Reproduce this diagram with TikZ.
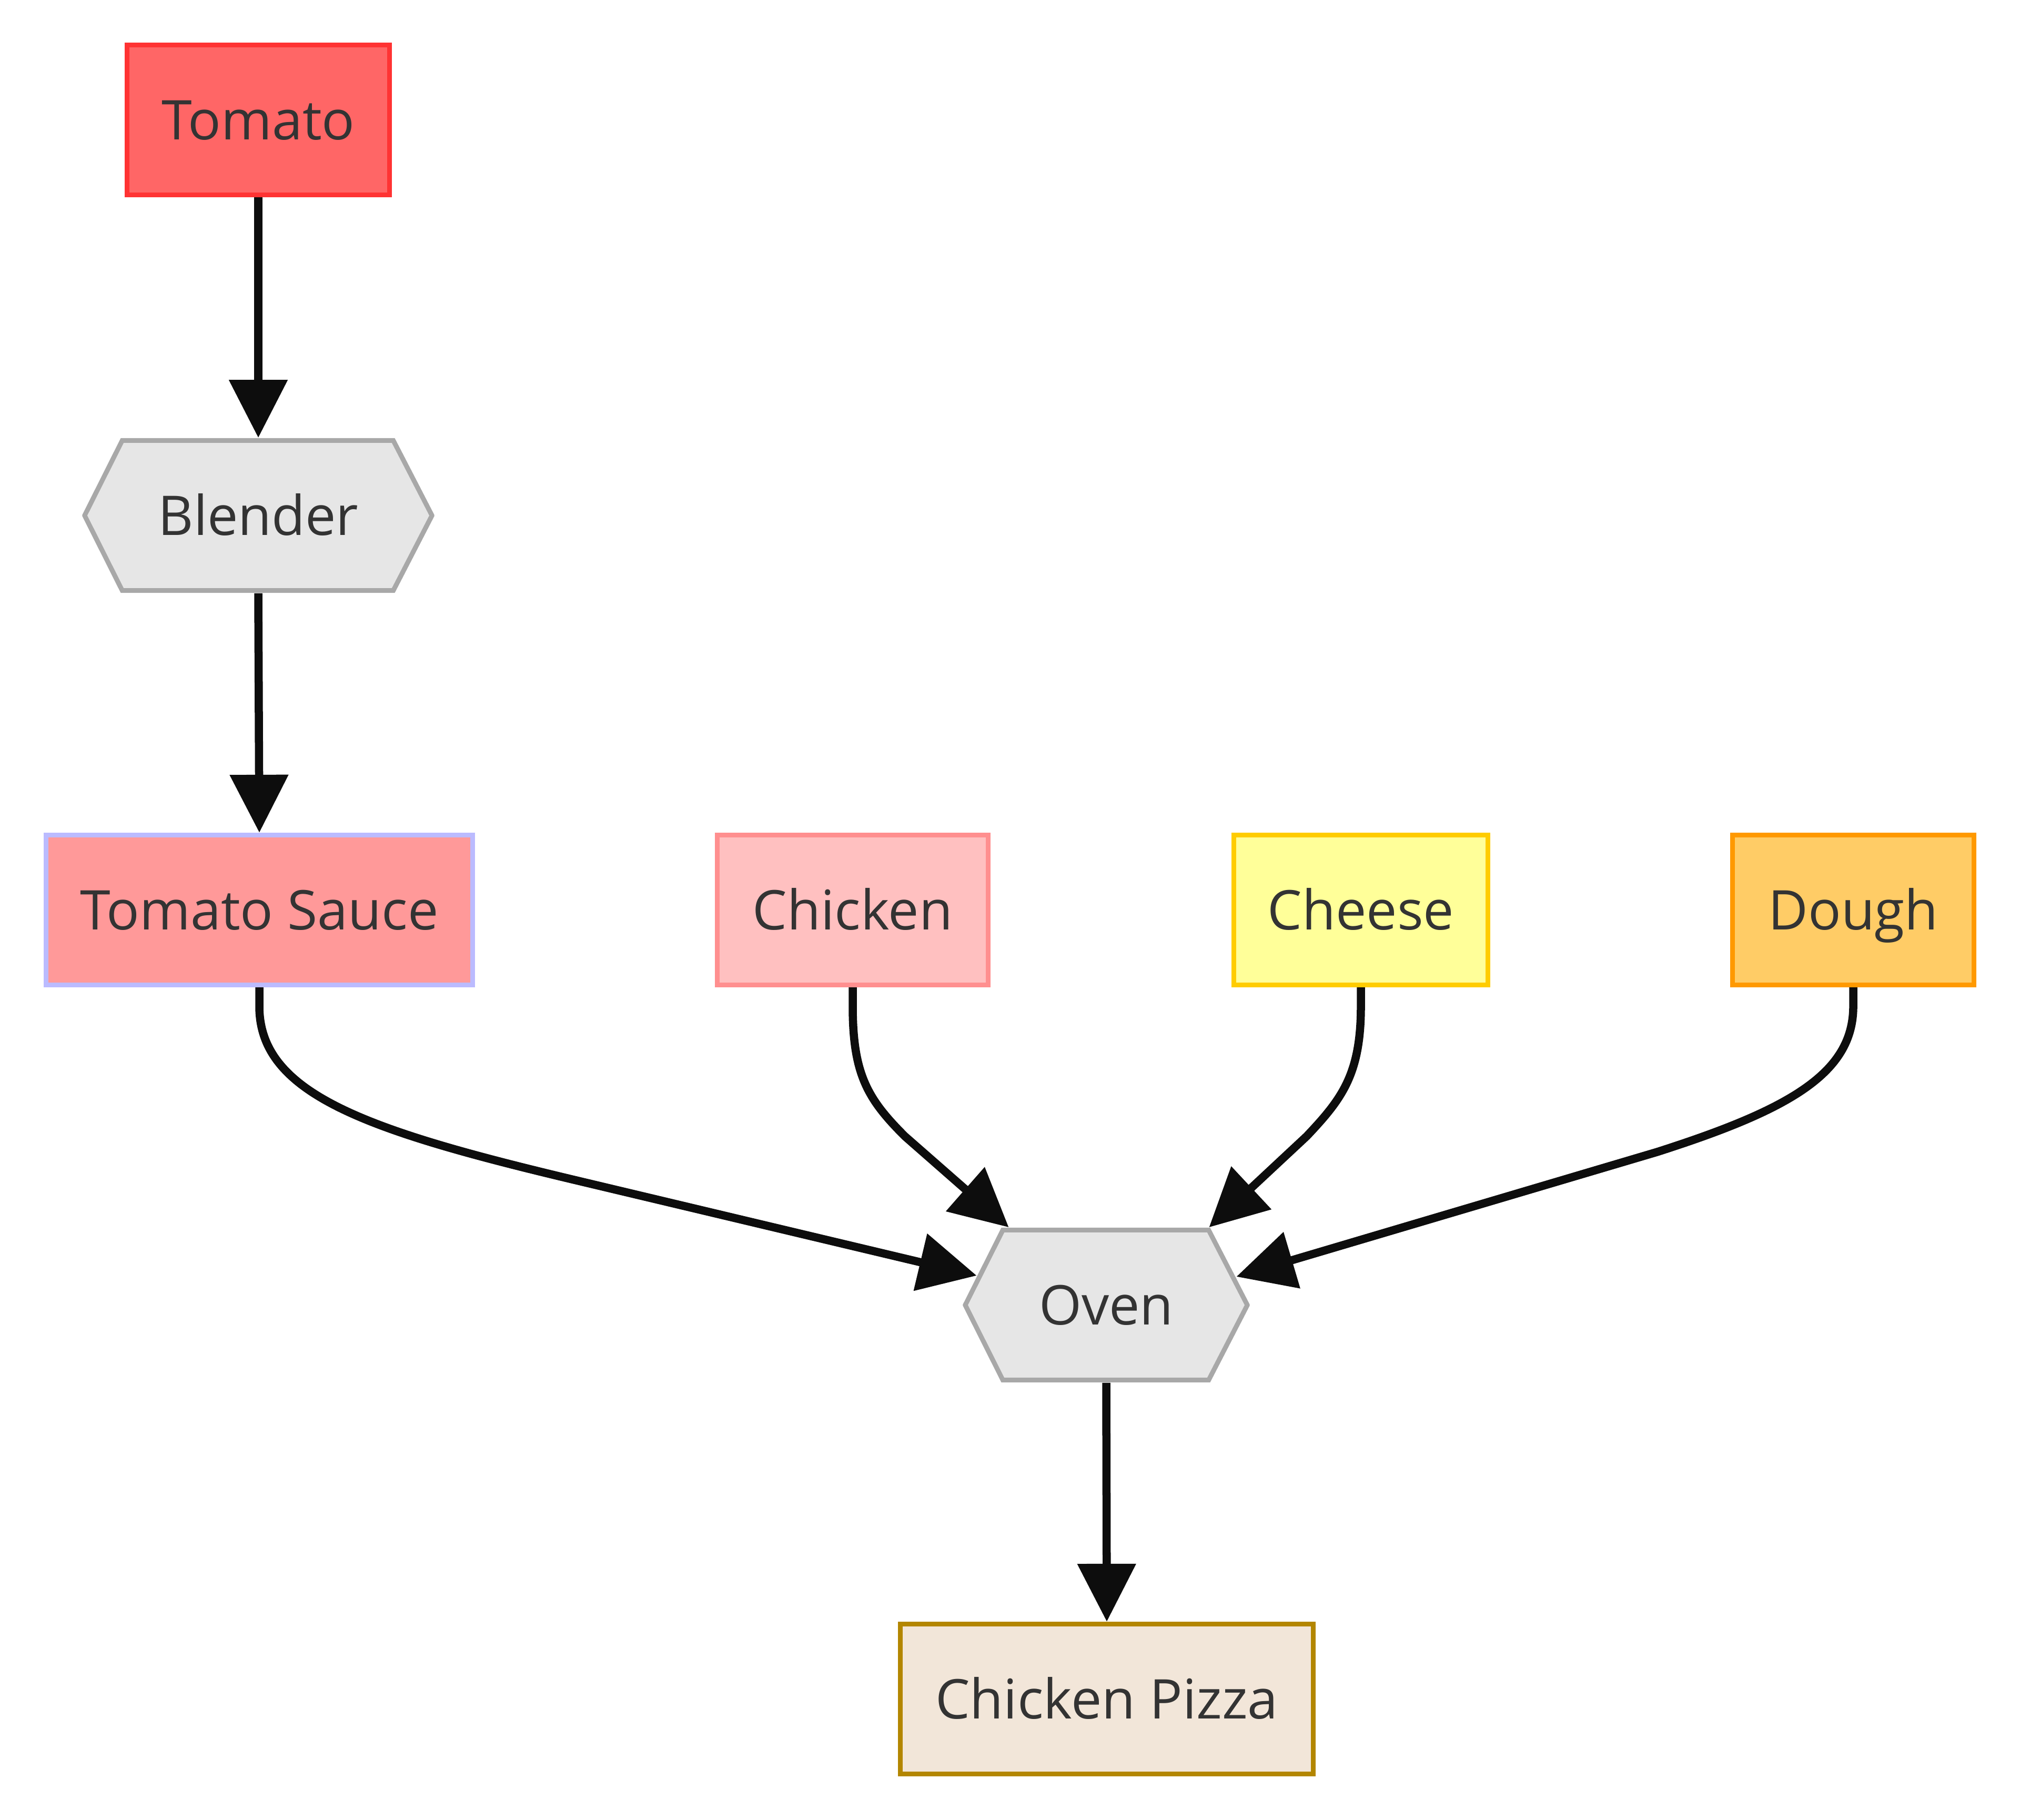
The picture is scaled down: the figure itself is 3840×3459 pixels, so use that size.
\documentclass[tikz,border=0pt]{standalone}
\usepackage{fontspec}
\setmainfont{Open Sans}
\usetikzlibrary{arrows.meta,calc}
\definecolor{tomatoF}{HTML}{FF6666}
\definecolor{tomatoD}{HTML}{FF3333}
\definecolor{hexF}{HTML}{E6E6E6}
\definecolor{hexD}{HTML}{A8A8A8}
\definecolor{sauceF}{HTML}{FF9999}
\definecolor{sauceD}{HTML}{BBBBFF}
\definecolor{chickF}{HTML}{FFC0C0}
\definecolor{chickD}{HTML}{FF8F8F}
\definecolor{cheeseF}{HTML}{FFFF99}
\definecolor{cheeseD}{HTML}{FFCC00}
\definecolor{doughF}{HTML}{FFCC66}
\definecolor{doughD}{HTML}{FF9900}
\definecolor{pizzaF}{HTML}{F2E6D9}
\definecolor{pizzaD}{HTML}{B38600}
\definecolor{txt}{HTML}{333333}
\definecolor{edgec}{HTML}{0D0D0D}
\newcommand\myhexpath{%
 ($(path picture bounding box.west)+(0.045cm,0)$) --
 ($(path picture bounding box.north west)+(0.76cm,-0.045cm)$) --
 ($(path picture bounding box.north east)+(-0.78cm,-0.045cm)$) --
 ($(path picture bounding box.east)+(-0.045cm,0)$) --
 ($(path picture bounding box.south east)+(-0.78cm,0.045cm)$) --
 ($(path picture bounding box.south west)+(0.76cm,0.045cm)$) -- cycle}
\tikzset{
  lbl/.style={text=txt, font=\fontsize{29.6}{35}\selectfont, inner sep=0pt,
    text height=21.1pt, text depth=0pt},
  box/.style={lbl, rectangle, draw, line width=0.09cm, minimum height=2.85cm},
  hexnode/.style={lbl, rectangle, draw=none, minimum height=2.94cm,
    path picture={\path[fill=hexF, draw=hexD, line width=0.09cm, line join=miter] \myhexpath;}},
  edge/.style={draw=edgec, line width=0.155cm, -{Triangle[length=1.1cm,width=1.08cm]}}
}
\begin{document}
\begin{tikzpicture}[x=0.01cm, y=-0.01cm]
\useasboundingbox[fill=white] (0,0) rectangle (3840,3459);
\node[box, fill=tomatoF, draw=tomatoD, minimum width=4.98cm] (tomato) at (491,228) {Tomato};
\node[hexnode, minimum width=6.69cm] (blender) at (491,980) {Blender};
\node[box, fill=sauceF, draw=sauceD, minimum width=8.11cm] (sauce) at (493,1730) {Tomato Sauce};
\node[box, fill=chickF, draw=chickD, minimum width=5.15cm] (chicken) at (1621,1730) {Chicken};
\node[box, fill=cheeseF, draw=cheeseD, minimum width=4.83cm] (cheese) at (2587,1730) {Cheese};
\node[box, fill=doughF, draw=doughD, minimum width=4.59cm] (dough) at (3523,1730) {Dough};
\node[hexnode, minimum width=5.45cm] (oven) at (2103,2481) {Oven};
\node[box, fill=pizzaF, draw=pizzaD, minimum width=7.84cm] (pizza) at (2104,3230) {Chicken Pizza};

\draw[edge] (tomato.south) -- (blender.north);
\draw[edge] (blender.south) -- (sauce.north);
\draw[edge] (sauce.south) -- ++(0,36) .. controls +(0,168) and (700,2150) .. (1100,2245) -- ($(oven.west)+(27,-56)$);
\draw[edge] (chicken.south) -- ++(0,36) .. controls +(0,130) and (1650,2090) .. (1720,2160) -- ($(oven.north west)+(88,0)$);
\draw[edge] (cheese.south) -- ++(0,36) .. controls +(0,130) and (2550,2090) .. (2484,2160) -- ($(oven.north east)+(-78,0)$);
\draw[edge] (dough.south) -- ++(0,36) .. controls +(0,128) and (3400,2110) .. (3150,2190) -- ($(oven.east)+(-26,-54)$);
\draw[edge] (oven.south) -- (pizza.north);
\end{tikzpicture}
\end{document}
